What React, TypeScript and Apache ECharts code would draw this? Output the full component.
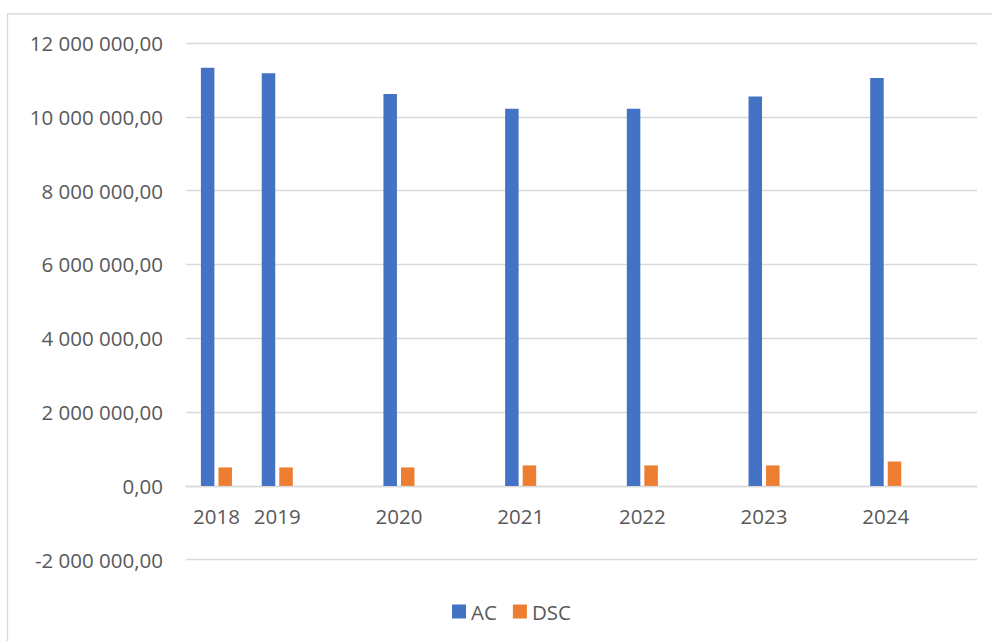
import React, { useEffect, useRef } from "react";
import * as echarts from "echarts";

// Category slots; blank slots leave the empty gaps between the year groups.
const categories = ["2018", "2019", "", "2020", "", "2021", "", "2022", "", "2023", "", "2024", ""];
const acValues = [11330000, 11180000, null, 10620000, null, 10220000, null, 10220000, null, 10550000, null, 11050000, null];
const dscValues = [500000, 500000, null, 500000, null, 555000, null, 555000, null, 555000, null, 660000, null];
const seriesNames = ["AC", "DSC"];
const yTicks = { min: -2000000, max: 12000000, interval: 2000000 };

const FONT = "'Open Sans', 'Noto Sans', sans-serif";
const FONT_SIZE = 20.5;
const TEXT_COLOR = "#595959";
const GRID_COLOR = "#d9d9d9";

const GRID_TOP = 43;
const GRID_BOTTOM = 641 - 559.7;

function formatNumber(v: number): string {
  const neg = v < 0;
  const abs = Math.abs(v);
  const intPart = Math.floor(abs).toString().replace(/\B(?=(\d{3})+(?!\d))/g, " ");
  return (neg ? "-" : "") + intPart + ",00";
}

export default function App() {
  const ref = useRef<HTMLDivElement>(null);

  useEffect(() => {
    if (!ref.current) return;
    const chart = echarts.init(ref.current, null, { renderer: "svg" });

    // distance between the grid bottom and the zero line, so the category axis sits on zero
    const plotHeight = 641 - GRID_TOP - GRID_BOTTOM;
    const zeroShift = (plotHeight * (0 - yTicks.min)) / (yTicks.max - yTicks.min);

    chart.setOption({
      animation: false,
      backgroundColor: "#ffffff",
      textStyle: { fontFamily: FONT },
      graphic: [
        {
          type: "rect",
          shape: { x: 7.5, y: 14, width: 1100, height: 800 },
          style: { fill: "none", stroke: GRID_COLOR, lineWidth: 1.3 },
          silent: true,
          z: -1,
        },
      ],
      grid: { left: 186, right: 15, top: GRID_TOP, bottom: GRID_BOTTOM, containLabel: false },
      legend: {
        data: seriesNames,
        left: 452,
        top: 601,
        padding: 0,
        itemWidth: 14,
        itemHeight: 14,
        itemGap: 16,
        icon: "rect",
        textStyle: { fontSize: FONT_SIZE, color: TEXT_COLOR, fontFamily: FONT },
      },
      xAxis: {
        type: "category",
        data: categories,
        offset: -zeroShift,
        axisTick: { show: false },
        axisLine: { show: true, onZero: false, lineStyle: { color: GRID_COLOR, width: 1.3 } },
        axisLabel: { interval: 0, margin: 20, fontSize: FONT_SIZE, color: TEXT_COLOR, fontFamily: FONT },
        splitLine: { show: false },
      },
      yAxis: {
        type: "value",
        min: yTicks.min,
        max: yTicks.max,
        interval: yTicks.interval,
        axisLine: { show: false },
        axisTick: { show: false },
        axisLabel: {
          margin: 23,
          fontSize: FONT_SIZE,
          color: TEXT_COLOR,
          fontFamily: FONT,
          formatter: (v: number) => formatNumber(v),
        },
        splitLine: { show: true, lineStyle: { color: GRID_COLOR, width: 1.3 } },
      },
      series: [
        {
          name: seriesNames[0],
          type: "bar",
          data: acValues,
          barWidth: 13.5,
          barGap: "30%",
          itemStyle: { color: "#4472c4" },
        },
        {
          name: seriesNames[1],
          type: "bar",
          data: dscValues,
          barWidth: 13.5,
          barGap: "30%",
          itemStyle: { color: "#ed7d31" },
        },
      ],
    });
    return () => chart.dispose();
  }, []);

  return (
    <div
      ref={ref}
      style={{ position: "absolute", left: 0, top: 0, width: 992, height: 641 }}
    />
  );
}
